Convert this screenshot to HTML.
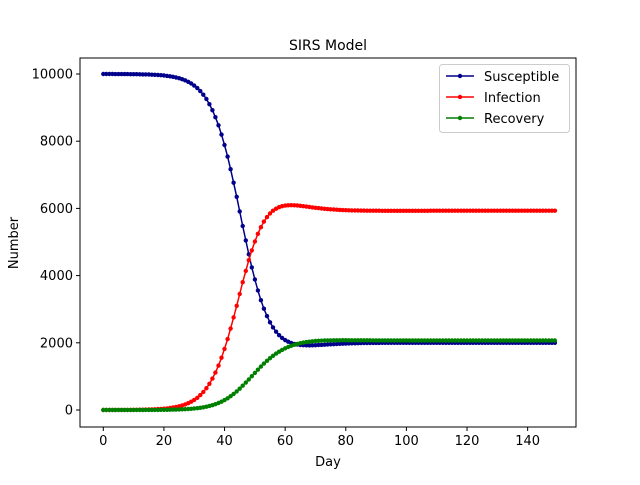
<!DOCTYPE html>
<html><head><meta charset="utf-8"><style>
html,body{margin:0;padding:0;background:#fff;}
svg text{font-family:"DejaVu Sans","Liberation Sans",sans-serif;fill:#000;}
</style></head><body>
<svg id="s" width="640" height="480" xmlns="http://www.w3.org/2000/svg">
<rect width="640" height="480" fill="#fff"/>
<text x="328" y="50" font-size="14" text-anchor="middle">SIRS Model</text>
<g id="plot"></g>
<rect x="80" y="58" width="496" height="369" fill="none" stroke="#000" stroke-width="1"/>
<g id="ticks" font-size="13"></g>
<text x="328" y="466" font-size="13" text-anchor="middle">Day</text>
<text transform="translate(18,243) rotate(-90)" font-size="13" text-anchor="middle">Number</text>
<g>
<rect x="439.5" y="64.5" width="130" height="68" rx="3" fill="#fff" fill-opacity="0.8" stroke="#ccc"/>
<line x1="446" y1="76" x2="474" y2="76" stroke="#00008b" stroke-width="1.5"/><circle cx="460" cy="76" r="2.2" fill="#00008b"/>
<text x="484" y="81" font-size="13">Susceptible</text>
<line x1="446" y1="97" x2="474" y2="97" stroke="red" stroke-width="1.5"/><circle cx="460" cy="97" r="2.2" fill="red"/>
<text x="484" y="102" font-size="13">Infection</text>
<line x1="446" y1="118" x2="474" y2="118" stroke="green" stroke-width="1.5"/><circle cx="460" cy="118" r="2.2" fill="green"/>
<text x="484" y="123" font-size="13">Recovery</text>
</g>
</svg>
<script>
var X=function(t){return 103.3+t*3.031;},Y=function(v){return 410-v*0.0336;};
var tk=document.getElementById('ticks'),h='';
for(var t=0;t<=140;t+=20){var x=X(t);h+='<line x1="'+x+'" y1="427" x2="'+x+'" y2="431" stroke="#000"/><text x="'+x+'" y="445" text-anchor="middle">'+t+'</text>';}
for(var v=0;v<=10000;v+=2000){var y=Y(v);h+='<line x1="76" y1="'+y+'" x2="80" y2="'+y+'" stroke="#000"/><text x="73" y="'+(y+4.5)+'" text-anchor="end">'+v+'</text>';}
tk.innerHTML=h;
var N=10000,b=0.26,g=0.052,w=0.149,S=9999.35,I=0.65,R=0,Ss=[],Is=[],Rs=[];
for(var d=0;d<150;d++){Ss.push(S);Is.push(I);Rs.push(R);
 for(var k=0;k<10;k++){var dt=0.1,inf=b*S*I/N,rec=g*I,los=w*R;S+=dt*(-inf+los);I+=dt*(inf-rec);R+=dt*(rec-los);}}
function ser(a,c){var p='',m='';for(var i=0;i<a.length;i++){var x=X(i).toFixed(1),y=Y(a[i]).toFixed(1);p+=(i?'L':'M')+x+' '+y;m+='<circle cx="'+x+'" cy="'+y+'" r="2.2" fill="'+c+'"/>';}
 return '<path d="'+p+'" fill="none" stroke="'+c+'" stroke-width="1.5"/>'+m;}
document.getElementById('plot').innerHTML=ser(Ss,'#00008b')+ser(Is,'red')+ser(Rs,'green');
</script>
</body></html>
